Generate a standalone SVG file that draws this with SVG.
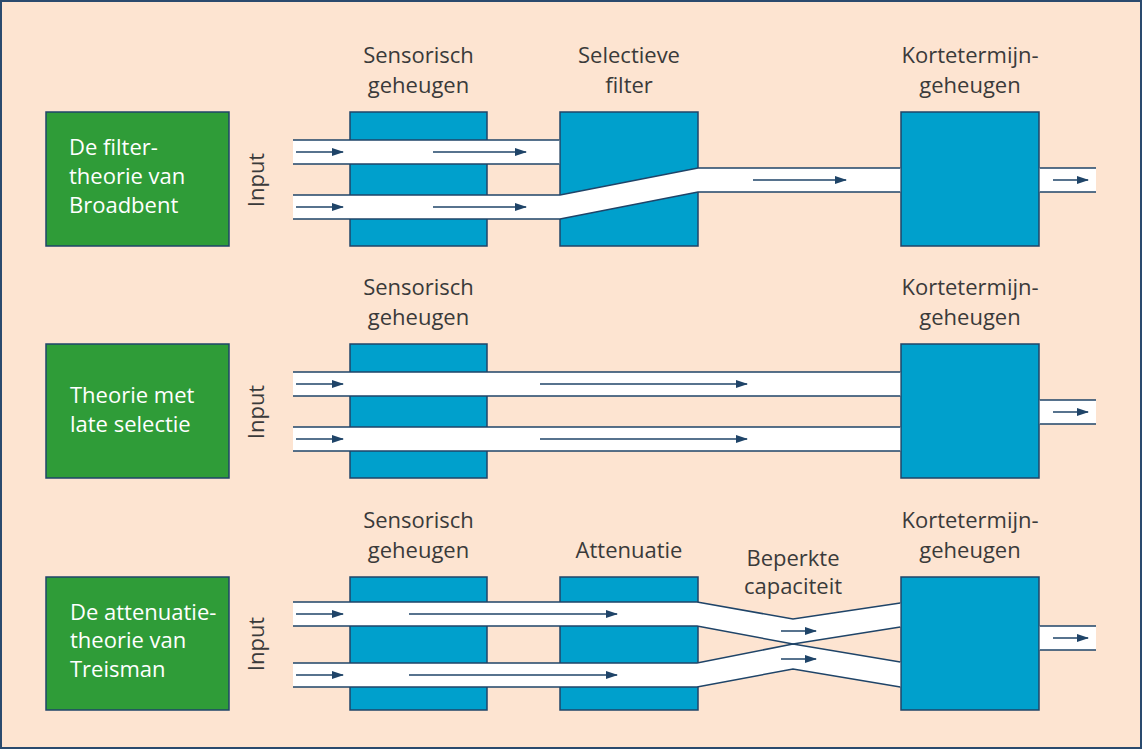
<svg xmlns="http://www.w3.org/2000/svg" width="1143" height="750" viewBox="0 0 1143 750">
<style>
.bg{fill:#fde4d1;stroke:#2a4a6e;stroke-width:2}
.g{fill:#2f9c38;stroke:#1f4468;stroke-width:1.5}
.b{fill:#00a0cc;stroke:#1f4468;stroke-width:1.5}
.ch{fill:#ffffff;stroke:none}
.ed{fill:none;stroke:#1f4468;stroke-width:1.5}
.ar{fill:none;stroke:#1f4468;stroke-width:1.5;marker-end:url(#ah)}
.wt{font-family:"Open Sans","Liberation Sans",sans-serif;font-size:22px;fill:#ffffff}
.lb{font-family:"Open Sans","Liberation Sans",sans-serif;font-size:22px;fill:#3a3a3a;text-anchor:middle}
</style>
<defs>
<marker id="ah" markerUnits="userSpaceOnUse" markerWidth="12" markerHeight="8" refX="11" refY="4" orient="auto">
<path d="M0,0 L12,4 L0,8 z" fill="#1f4468"/>
</marker>
</defs>
<rect class="bg" x="1" y="1" width="1140" height="747"/>

<!-- Row 1 -->
<g id="theory-broadbent">
<rect class="g" x="46" y="112" width="183" height="134"/>
<text class="wt" x="69" y="155">De filter-</text>
<text class="wt" x="69" y="184">theorie van</text>
<text class="wt" x="69" y="213">Broadbent</text>
</g>
<g id="input-1"><text class="lb" transform="translate(264,180) rotate(-90)">Input</text></g>
<g id="sensorisch-1">
<rect class="b" x="350" y="112" width="137" height="134"/>
<text class="lb" x="418.5" y="63">Sensorisch</text>
<text class="lb" x="418.5" y="93">geheugen</text>
</g>
<g id="filter-1">
<rect class="b" x="560" y="112" width="138" height="134"/>
<text class="lb" x="629" y="63">Selectieve</text>
<text class="lb" x="629" y="93">filter</text>
</g>
<g id="ktg-1">
<rect class="b" x="901" y="112" width="138" height="134"/>
<text class="lb" x="970" y="63">Kortetermijn-</text>
<text class="lb" x="970" y="93">geheugen</text>
</g>

<!-- Row 2 -->
<g id="theory-late">
<rect class="g" x="46" y="344" width="183" height="134"/>
<text class="wt" x="70" y="403">Theorie met</text>
<text class="wt" x="70" y="432">late selectie</text>
</g>
<g id="input-2"><text class="lb" transform="translate(264,412) rotate(-90)">Input</text></g>
<g id="sensorisch-2">
<rect class="b" x="350" y="344" width="137" height="134"/>
<text class="lb" x="418.5" y="295">Sensorisch</text>
<text class="lb" x="418.5" y="325">geheugen</text>
</g>
<g id="ktg-2">
<rect class="b" x="901" y="344" width="138" height="134"/>
<text class="lb" x="970" y="295">Kortetermijn-</text>
<text class="lb" x="970" y="325">geheugen</text>
</g>

<!-- Row 3 -->
<g id="theory-treisman">
<rect class="g" x="46" y="577" width="183" height="133"/>
<text class="wt" x="70" y="620">De attenuatie-</text>
<text class="wt" x="70" y="648">theorie van</text>
<text class="wt" x="70" y="677">Treisman</text>
</g>
<g id="input-3"><text class="lb" transform="translate(264,644) rotate(-90)">Input</text></g>
<g id="sensorisch-3">
<rect class="b" x="350" y="577" width="137" height="133"/>
<text class="lb" x="418.5" y="528">Sensorisch</text>
<text class="lb" x="418.5" y="558">geheugen</text>
</g>
<g id="attenuatie-3">
<rect class="b" x="560" y="577" width="138" height="133"/>
<text class="lb" x="629" y="558">Attenuatie</text>
</g>
<g id="capaciteit-3">
<text class="lb" x="793" y="566">Beperkte</text>
<text class="lb" x="793" y="594">capaciteit</text>
</g>
<g id="ktg-3">
<rect class="b" x="901" y="577" width="138" height="133"/>
<text class="lb" x="970" y="528">Kortetermijn-</text>
<text class="lb" x="970" y="558">geheugen</text>
</g>

<g id="connectors">
<!-- Row 1 channels -->
<rect class="ch" x="293" y="140" width="266.2" height="24"/>
<path class="ed" d="M293,140 H559.3 M293,164 H559.3"/>
<polygon class="ch" points="293,195 560,195 698,168 900.2,168 900.2,192 698,192 560,219 293,219"/>
<path class="ed" d="M293,195 H560 L698,168 H900.3 M293,219 H560 L698,192 H900.3"/>
<rect class="ch" x="1039.8" y="168" width="56.2" height="24"/>
<path class="ed" d="M1039.8,168 H1096 M1039.8,192 H1096"/>
<line class="ar" x1="296" y1="152" x2="343" y2="152"/>
<line class="ar" x1="433" y1="152" x2="526" y2="152"/>
<line class="ar" x1="296" y1="207" x2="343" y2="207"/>
<line class="ar" x1="433" y1="207" x2="526" y2="207"/>
<line class="ar" x1="753" y1="180" x2="846" y2="180"/>
<line class="ar" x1="1053" y1="180" x2="1088" y2="180"/>

<!-- Row 2 channels -->
<rect class="ch" x="293" y="372" width="607.2" height="24"/>
<path class="ed" d="M293,372 H900.3 M293,396 H900.3"/>
<rect class="ch" x="293" y="427" width="607.2" height="24"/>
<path class="ed" d="M293,427 H900.3 M293,451 H900.3"/>
<rect class="ch" x="1039.8" y="400" width="56.2" height="24"/>
<path class="ed" d="M1039.8,400 H1096 M1039.8,424 H1096"/>
<line class="ar" x1="296" y1="384" x2="343" y2="384"/>
<line class="ar" x1="540" y1="384" x2="747" y2="384"/>
<line class="ar" x1="296" y1="439" x2="343" y2="439"/>
<line class="ar" x1="540" y1="439" x2="747" y2="439"/>
<line class="ar" x1="1053" y1="412" x2="1088" y2="412"/>

<!-- Row 3 channels -->
<polygon class="ch" points="293,602 697,602 793,619 900.2,603 900.2,627 793,644 697,626 293,626"/>
<path class="ed" d="M293,602 H697 L793,619 L900.3,603 M293,626 H697 L793,644 L900.3,627"/>
<polygon class="ch" points="293,663 697,663 793,644 900.2,662 900.2,687 793,669 697,687 293,687"/>
<path class="ed" d="M293,663 H697 L793,644 L900.3,662 M293,687 H697 L793,669 L900.3,687"/>
<rect class="ch" x="1039.8" y="626" width="56.2" height="24"/>
<path class="ed" d="M1039.8,626 H1096 M1039.8,650 H1096"/>
<line class="ar" x1="296" y1="614" x2="343" y2="614"/>
<line class="ar" x1="409" y1="614" x2="617" y2="614"/>
<line class="ar" x1="296" y1="675" x2="343" y2="675"/>
<line class="ar" x1="409" y1="675" x2="617" y2="675"/>
<line class="ar" x1="781" y1="631" x2="816" y2="631"/>
<line class="ar" x1="781" y1="659" x2="816" y2="659"/>
<line class="ar" x1="1053" y1="638" x2="1088" y2="638"/>
</g>
</svg>
